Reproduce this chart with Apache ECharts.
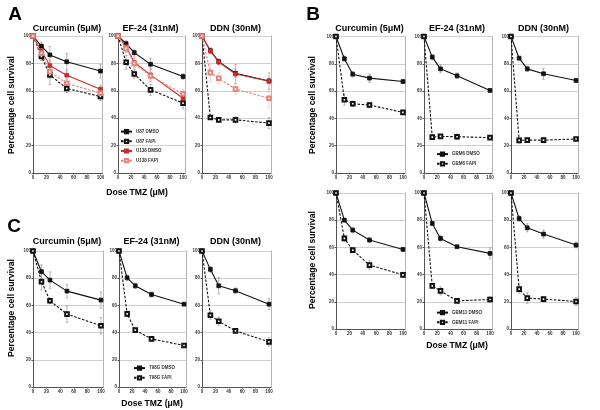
<!DOCTYPE html>
<html>
<head>
<meta charset="utf-8">
<script src="https://cdn.jsdelivr.net/npm/echarts@6/dist/echarts.min.js"></script>
<style>
html, body { margin: 0; padding: 0; background: #fff; }
#main { width: 600px; height: 410px; }
</style>
</head>
<body>
<div id="main"></div>
<script>
// doses of TMZ (uM) on the x axis
var doses = [0, 12.5, 25, 50, 100];
var drugs = ['Curcumin (5\u03bcM)', 'EF-24 (31nM)', 'DDN (30nM)'];
var xTicks = [0, 20, 40, 60, 80, 100];
var yTicks = [0, 20, 40, 60, 80, 100];

// panel A: one row per drug (Curcumin, EF-24, DDN)
var aU87Dmso  = [[100, 92.6, 86.2, 81.2, 74.4], [100, 94.4, 87.9, 79.4, 70.4], [100, 89.3, 81.3, 72.8, 67.2]];
var aU87Fapi  = [[100, 85.0, 71.6, 61.7, 55.8], [100, 80.8, 72.3, 60.7, 51.0], [100, 40.5, 38.8, 38.8, 36.4]];
var aU138Dmso = [[100, 89.0, 78.4, 71.4, 61.2], [100, 92.2, 80.8, 71.6, 54.6], [100, 89.0, 81.0, 72.2, 67.0]];
var aU138Fapi = [[100, 87.4, 74.0, 65.5, 58.3], [100, 91.0, 80.0, 70.8, 57.8], [100, 73.3, 69.2, 61.2, 54.6]];
var aU87DmsoErr  = [[0, 3, 6, 6, 5], [0, 2, 2, 4, 2], [0, 2, 2, 3, 2]];
var aU87FapiErr  = [[0, 3, 7, 3, 3], [0, 5, 3, 4, 4], [0, 1, 1, 2, 4]];
var aU138DmsoErr = [[0, 3, 4, 3, 3], [0, 4, 4, 5, 5], [0, 2, 2, 7, 6]];
var aU138FapiErr = [[0, 3, 6, 3, 3], [0, 3, 4, 3, 3], [0, 7, 4, 4, 7]];

// panel B top: GBM6
var bGbm6Dmso = [[100, 83.7, 72.4, 69.5, 67.0], [100, 84.9, 76.3, 71.2, 60.5], [100, 84.1, 76.3, 72.7, 67.8]];
var bGbm6Fapi = [[100, 53.7, 50.7, 49.8, 44.4], [100, 26.3, 26.8, 26.6, 25.9], [100, 23.9, 24.1, 24.1, 24.9]];
var bGbm6DmsoErr = [[0, 2, 2, 3, 1], [0, 2, 3, 2, 1], [0, 1, 2, 4, 1]];
var bGbm6FapiErr = [[0, 4, 2, 2, 1], [0, 1, 1, 2, 1], [0, 2, 1, 2, 1]];

// panel B bottom: GBM11
var bGbm11Dmso = [[100, 80.0, 72.7, 65.4, 58.5], [100, 77.6, 66.6, 60.5, 55.6], [100, 81.2, 74.4, 69.8, 61.7]];
var bGbm11Fapi = [[100, 66.6, 58.0, 47.0, 39.8], [100, 31.7, 28.0, 20.7, 21.7], [100, 29.3, 22.7, 22.0, 20.2]];
var bGbm11DmsoErr = [[0, 1, 2, 2, 1], [0, 1, 2, 1, 4], [0, 2, 3, 3, 2]];
var bGbm11FapiErr = [[0, 2, 1, 3, 2], [0, 2, 3, 1, 2], [0, 3, 4, 2, 3]];

// panel C: T98G
var cT98gDmso = [[100, 84.8, 78.6, 70.5, 63.9], [100, 80.3, 74.4, 68.0, 60.9], [100, 86.5, 74.4, 70.8, 60.9]];
var cT98gFapi = [[100, 77.4, 63.4, 53.6, 45.0], [100, 53.8, 41.8, 35.4, 30.5], [100, 52.8, 48.4, 41.3, 33.2]];
var cT98gDmsoErr = [[0, 5, 6, 5, 6], [0, 2, 2, 2, 1], [0, 2, 6, 2, 4]];
var cT98gFapiErr = [[0, 6, 2, 6, 6], [0, 2, 1, 1, 1], [0, 3, 3, 1, 3]];

var FONT = '"Liberation Sans", Arial, sans-serif';
var RED = '#c4302b', PINK = '#e8837c';

// plot boxes: left, top, width, height (x runs to 103 so the box sits a bit past 100)
var boxes = [
    [33, 36, 69.5, 137], [118, 36, 67, 137], [202, 36, 69, 137],
    [336, 36.5, 69, 136.5], [424, 36.5, 68, 136.5], [511, 36.5, 67, 136.5],
    [336, 193, 69, 136], [424, 193, 68, 136], [511, 193, 67, 136],
    [33, 251, 70, 136], [119, 251, 67, 136], [202, 251, 69, 136]
];

var grids = [], xAxes = [], yAxes = [], series = [];
boxes.forEach(function (b, i) {
    grids.push({left: b[0], top: b[1], width: b[2], height: b[3]});
    xAxes.push({
        type: 'value', gridIndex: i, min: xTicks[0], max: 103, interval: 20,
        axisLine: {lineStyle: {color: '#555', width: 1}},
        axisTick: {show: true, length: 1.5, lineStyle: {color: '#555'}},
        axisLabel: {fontSize: 4.5, color: '#333', margin: 2, fontFamily: FONT, fontWeight: 'bold', showMaxLabel: false},
        splitLine: {show: false}
    });
    yAxes.push({
        type: 'value', gridIndex: i, min: yTicks[0], max: yTicks[yTicks.length - 1], interval: 20,
        axisLine: {show: true, lineStyle: {color: '#555', width: 1}},
        axisTick: {show: true, length: 1.5, lineStyle: {color: '#555'}},
        axisLabel: {fontSize: 4.5, color: '#333', margin: 2, fontFamily: FONT, fontWeight: 'bold'},
        splitLine: {show: true, lineStyle: {color: '#cfcfcf', width: 1}}
    });
    // right hand frame line
    yAxes.push({
        type: 'value', gridIndex: i, position: 'right', min: 0, max: 100,
        axisLine: {show: true, lineStyle: {color: '#b5b5b5', width: 1}},
        axisTick: {show: false}, axisLabel: {show: false}, splitLine: {show: false}
    });
});

function errBar(color) {
    return function (params, api) {
        var x = api.value(0), y = api.value(1), e = api.value(2);
        if (!e) return null;
        var hi = api.coord([x, y + e]), lo = api.coord([x, y - e]);
        var w = 1.3, st = {stroke: color, lineWidth: 0.7};
        return {type: 'group', children: [
            {type: 'line', shape: {x1: hi[0], y1: hi[1], x2: lo[0], y2: lo[1]}, style: st},
            {type: 'line', shape: {x1: hi[0] - w, y1: hi[1], x2: hi[0] + w, y2: hi[1]}, style: st},
            {type: 'line', shape: {x1: lo[0] - w, y1: lo[1], x2: lo[0] + w, y2: lo[1]}, style: st}
        ]};
    };
}

function addLine(g, name, vals, errs, color, errColor, dashed) {
    series.push({
        type: 'custom', xAxisIndex: g, yAxisIndex: g * 2, silent: true, z: 2,
        data: doses.map(function (d, k) { return [d, vals[k], errs[k]]; }),
        encode: {x: 0, y: 1},
        renderItem: errBar(errColor)
    });
    series.push({
        type: 'line', name: name, xAxisIndex: g, yAxisIndex: g * 2, z: 3,
        data: doses.map(function (d, k) { return [d, vals[k]]; }),
        symbol: dashed ? 'emptyRect' : 'rect', symbolSize: dashed ? 3.6 : 3.8,
        lineStyle: {color: color, width: 1.1, type: dashed ? [2.5, 1.6] : 'solid'},
        itemStyle: {color: color, borderColor: color, borderWidth: 0.8}
    });
}

for (var d = 0; d < 3; d++) {
    addLine(d, 'U87 DMSO', aU87Dmso[d], aU87DmsoErr[d], '#111', '#999', false);
    addLine(d, 'U87 FAPI', aU87Fapi[d], aU87FapiErr[d], '#111', '#999', true);
    addLine(d, 'U138 DMSO', aU138Dmso[d], aU138DmsoErr[d], RED, '#d88', false);
    addLine(d, 'U138 FAPI', aU138Fapi[d], aU138FapiErr[d], PINK, '#ebb', true);
    addLine(3 + d, 'GBM6 DMSO', bGbm6Dmso[d], bGbm6DmsoErr[d], '#111', '#999', false);
    addLine(3 + d, 'GBM6 FAPI', bGbm6Fapi[d], bGbm6FapiErr[d], '#111', '#999', true);
    addLine(6 + d, 'GBM11 DMSO', bGbm11Dmso[d], bGbm11DmsoErr[d], '#111', '#999', false);
    addLine(6 + d, 'GBM11 FAPI', bGbm11Fapi[d], bGbm11FapiErr[d], '#111', '#999', true);
    addLine(9 + d, 'T98G DMSO', cT98gDmso[d], cT98gDmsoErr[d], '#111', '#999', false);
    addLine(9 + d, 'T98G FAPI', cT98gFapi[d], cT98gFapiErr[d], '#111', '#999', true);
}

function legend(left, top, names) {
    return {
        left: left, top: top, orient: 'vertical', itemWidth: 11, itemHeight: 4, itemGap: 4.5,
        padding: 0, selectedMode: false,
        textStyle: {fontSize: 4.5, color: '#333', fontFamily: FONT, fontWeight: 'bold', padding: [0, 0, 0, -1]},
        data: names
    };
}

function txt(x, y, s, size, rot) {
    return {
        type: 'text', x: x, y: y, rotation: rot || 0, z: 10,
        style: {text: s, fill: '#000', font: 'bold ' + size + 'px ' + FONT, textAlign: 'center', textVerticalAlign: 'middle'}
    };
}

var graphics = [
    txt(15, 15, 'A', 19), txt(313, 15, 'B', 19), txt(14, 227, 'C', 19),
    txt(12, 105, 'Percentage cell survival', 8.6, Math.PI / 2),
    txt(313, 105, 'Percentage cell survival', 8.6, Math.PI / 2),
    txt(313, 260, 'Percentage cell survival', 8.6, Math.PI / 2),
    txt(12, 308, 'Percentage cell survival', 8.6, Math.PI / 2),
    txt(137, 193, 'Dose TMZ (\u03bcM)', 8.6),
    txt(457, 346, 'Dose TMZ (\u03bcM)', 8.6),
    txt(152, 404, 'Dose TMZ (\u03bcM)', 8.6)
];
var titleX = [[67, 150.5, 235.5], [369.5, 457, 543.5], [67, 151.5, 235.5]];
var titleY = [29, 29, 242];
for (var r = 0; r < 3; r++) {
    for (var c = 0; c < 3; c++) graphics.push(txt(titleX[r][c], titleY[r], drugs[c], 9));
}

var myChart = echarts.init(document.getElementById('main'));
var option = {
    animation: false,
    backgroundColor: '#fff',
    grid: grids,
    xAxis: xAxes,
    yAxis: yAxes,
    legend: [
        legend(120, 129, ['U87 DMSO', 'U87 FAPI', 'U138 DMSO', 'U138 FAPI']),
        legend(436, 151.5, ['GBM6 DMSO', 'GBM6 FAPI']),
        legend(436, 310, ['GBM11 DMSO', 'GBM11 FAPI']),
        legend(133, 365.5, ['T98G DMSO', 'T98G FAPI'])
    ],
    graphic: graphics,
    series: series
};
myChart.setOption(option);
window.addEventListener('resize', function () {
    myChart.resize();
});
</script>
</body>
</html>
